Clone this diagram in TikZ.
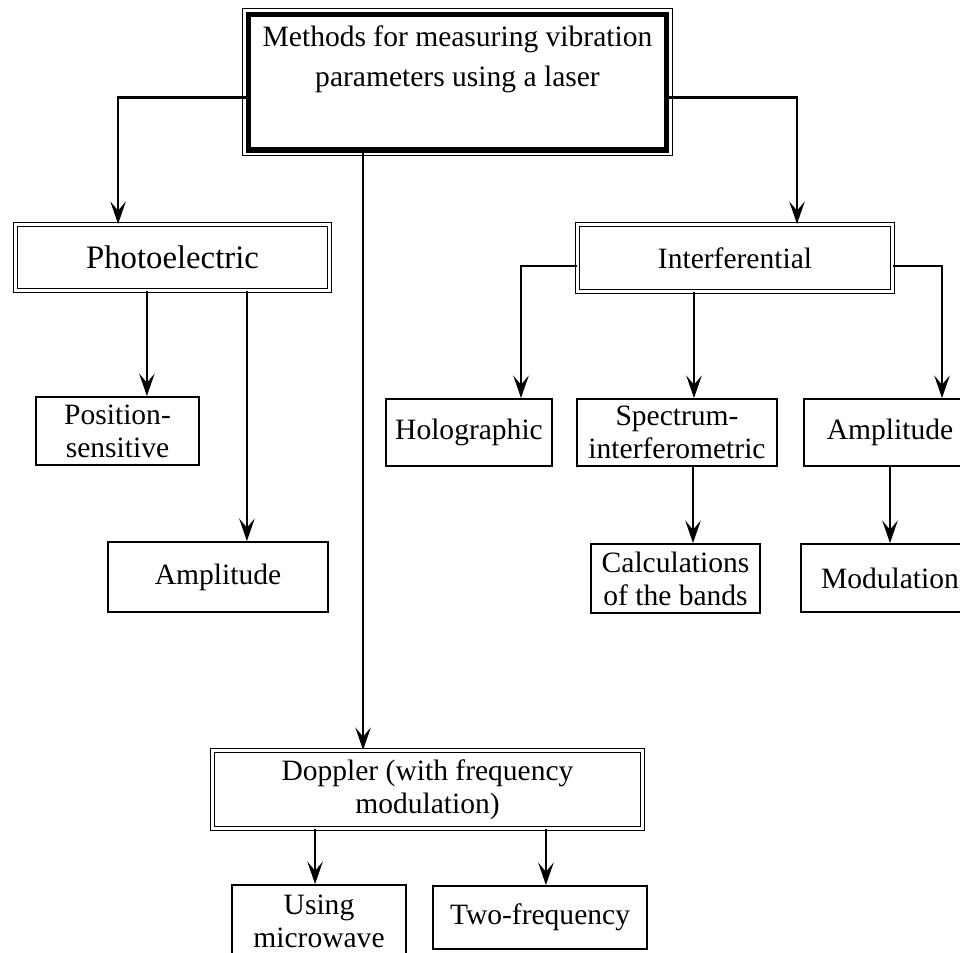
\documentclass[tikz,border=0pt]{standalone}
\usepackage{fontspec}
\setmainfont{Liberation Serif}
\usetikzlibrary{arrows.meta, positioning}

\tikzset{
  box/.style={draw, line width=1.3pt, align=center, inner sep=1pt,
    font=\fontsize{21}{23.5}\selectfont},
  dbox/.style={box, double, line width=0.7pt, double distance=2pt},
  topbox/.style={draw, line width=3.8pt},
  arrow/.style={line width=1.7pt, -{Stealth[length=16pt, width=11pt, inset=6.5pt]}},
}

\begin{document}
\begin{tikzpicture}[x=0.025cm, y=-0.025cm]
  \useasboundingbox (0,0) rectangle (960,953);
  \clip (0,0) rectangle (960,953);

  % Main box
  \node[topbox, minimum width=10.45cm, minimum height=3.39cm] (top) at (457.5,82.25) {};
  \draw[line width=0.7pt] ([shift={(-0.07cm,0.07cm)}]top.north west)
     rectangle ([shift={(0.07cm,-0.07cm)}]top.south east);
  \node[align=center, anchor=north, inner sep=0pt,
    font=\fontsize{21}{28.5}\selectfont] (toptext) at (457.5,25)
    {Methods for measuring vibration\\parameters using a laser};

  % Second level
  \node[dbox, minimum width=7.85cm, minimum height=1.65cm,
    font=\fontsize{23.3}{26}\selectfont] (photo) at (172.5,257.5) {Photoelectric};
  \node[dbox, minimum width=7.875cm, minimum height=1.675cm] (inter) at (735,258) {Interferential};
  \node[dbox, minimum width=10.75cm, minimum height=1.95cm] (dop) at (427.5,789.5)
    {Doppler (with frequency\\modulation)};

  % Photoelectric branch
  \node[box, minimum width=4.08cm, minimum height=1.7cm] (pos) at (117.5,431) {Position-\\sensitive};
  \node[box, minimum width=5.5cm, minimum height=1.75cm] (amp1) at (218,577) {Amplitude};

  % Interferential branch
  \node[box, minimum width=4.15cm, minimum height=1.675cm] (holo) at (469,432.5) {Holographic};
  \node[box, minimum width=5cm, minimum height=1.675cm] (spec) at (677,432.5) {Spectrum-\\interferometric};
  \node[box, minimum width=4.225cm, minimum height=1.725cm] (calc) at (675.5,578.5) {Calculations\\of the bands};
  \node[box, minimum width=4.3cm, minimum height=1.675cm] (amp2) at (890,432.5) {Amplitude};
  \node[box, minimum width=4.45cm, minimum height=1.7cm] (mod) at (890,578) {Modulation};

  % Doppler branch
  \node[box, minimum width=4.35cm, minimum height=1.8cm] (micro) at (319,921) {Using\\microwave};
  \node[box, minimum width=5.35cm, minimum height=1.575cm] (twof) at (540,917.5) {Two-frequency};

  % Connectors
  \draw[arrow] ([yshift=-0.38cm]top.west) -| ([xshift=-1.36cm]photo.north);
  \draw[arrow] ([yshift=-0.38cm]top.east) -| ([xshift=1.55cm]inter.north);
  \coordinate (mid) at ([xshift=-2.36cm]top.south);
  \draw[arrow] (mid) -- (mid |- dop.north);

  \coordinate (p1) at ([xshift=-0.64cm]photo.south);
  \coordinate (p2) at ([xshift=1.86cm]photo.south);
  \draw[arrow] (p1) -- (p1 |- pos.north);
  \draw[arrow] (p2) -- (p2 |- amp1.north);

  \draw[arrow] ([yshift=-0.2cm]inter.west) -| ([xshift=1.3cm]holo.north);
  \coordinate (i1) at ([xshift=-1.025cm]inter.south);
  \draw[arrow] (i1) -- (i1 |- spec.north);
  \draw[arrow] ([yshift=-0.2cm]inter.east) -| ([xshift=1.3cm]amp2.north);
  \coordinate (s1) at ([xshift=0.4cm]spec.south);
  \draw[arrow] (s1) -- (s1 |- calc.north);
  \draw[arrow] (amp2.south) -- (mod.north);

  \coordinate (d1) at ([xshift=-2.81cm]dop.south);
  \coordinate (d2) at ([xshift=2.96cm]dop.south);
  \draw[arrow] (d1) -- (d1 |- micro.north);
  \draw[arrow] (d2) -- (d2 |- twof.north);
\end{tikzpicture}
\end{document}
